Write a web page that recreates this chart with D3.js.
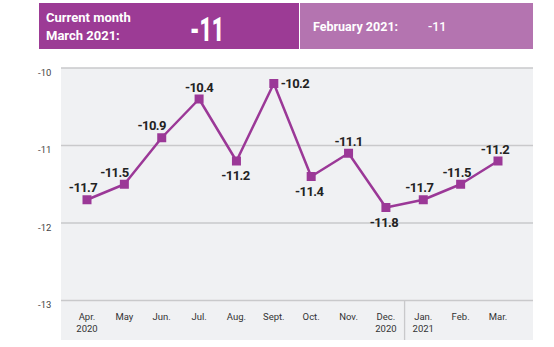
<!DOCTYPE html>
<html><head><meta charset="utf-8">
<script src="https://cdn.jsdelivr.net/npm/d3@7"></script>
<style>
html,body{margin:0;padding:0;background:#fff;}
svg{display:block;font-family:Roboto,"Open Sans",sans-serif;}
</style></head>
<body>
<svg id="c" width="554" height="347"></svg>
<script>
const months = ["Apr.","May","Jun.","Jul.","Aug.","Sept.","Oct.","Nov.","Dec.","Jan.","Feb.","Mar."];
const years  = ["2020","","","","","","","","2020","2021","",""];
const values = [-11.7,-11.5,-10.9,-10.4,-11.2,-10.2,-11.4,-11.1,-11.8,-11.7,-11.5,-11.2];
const yTicks = [-10,-11,-12,-13];
const currentLabel = ["Current month","March 2021:"];
const currentValue = "-11";
const prevLabel = "February 2021:";
const prevValue = "-11";

// label placement per point (style): [mode, dx]
const placement = [["a",-4],["a",-10],["a",-10],["a",0],["b",-1],["r",0],["b",-2],["a",0],["b",-2],["a",-4],["a",-4],["a",-3]];

const svg = d3.select("#c");
const dark = "#9c3b95", light = "#b474b0", lineCol = "#9b3897";

// header
svg.append("rect").attr("x",39).attr("y",3).attr("width",260).attr("height",46).attr("fill",dark);
svg.append("rect").attr("x",300).attr("y",3).attr("width",233).attr("height",46).attr("fill",light);
svg.append("text").attr("x",46).attr("y",22).attr("fill","#fff").attr("font-size",13).attr("font-weight",700).text(currentLabel[0]);
svg.append("text").attr("x",46).attr("y",39.5).attr("fill","#fff").attr("font-size",13).attr("font-weight",700).text(currentLabel[1]);
svg.append("text").attr("x",190).attr("y",40.5).attr("fill","#fff").attr("font-size",34).attr("font-weight",900)
  .attr("textLength",34).attr("lengthAdjust","spacingAndGlyphs").text(currentValue);
svg.append("text").attr("x",313).attr("y",30.5).attr("fill","#fff").attr("font-size",12.5).attr("font-weight",700).text(prevLabel);
svg.append("text").attr("x",428).attr("y",30.5).attr("fill","#fff").attr("font-size",12.5).attr("font-weight",500).text(prevValue);

// panel
const pL = 61, pR = 533, pT = 68, axisY = 300.5, pB = 340;
svg.append("rect").attr("x",pL).attr("y",pT).attr("width",pR-pL).attr("height",pB-pT).attr("fill","#f0f1f3");

const x = d3.scalePoint().domain(months).range([87, 498]);
const y = d3.scaleLinear().domain([-13,-10]).range([axisY, pT]);

// gridlines
svg.append("g").selectAll("line").data(yTicks).join("line")
  .attr("x1",pL).attr("x2",pR).attr("y1",d=>y(d)).attr("y2",d=>y(d))
  .attr("stroke","#c9c9cb").attr("stroke-width",1.3);
svg.append("g").selectAll("text").data(yTicks).join("text")
  .attr("x",38).attr("y",d=>y(d)+7.5).attr("font-size",9.5).attr("fill","#444").text(d=>d);

// divider between years
svg.append("line").attr("x1",(x("Dec.")+x("Jan."))/2).attr("x2",(x("Dec.")+x("Jan."))/2)
  .attr("y1",axisY).attr("y2",pB).attr("stroke","#c9c9cb").attr("stroke-width",1.3);

// x labels
const xl = svg.append("g").attr("font-size",9.5).attr("fill","#333").attr("text-anchor","middle");
xl.selectAll("text.m").data(months).join("text").attr("class","m")
  .attr("x",d=>x(d)).attr("y",320).text(d=>d);
xl.selectAll("text.yy").data(years.map((v,i)=>[v,i]).filter(d=>d[0])).join("text").attr("class","yy")
  .attr("x",d=>x(months[d[1]])).attr("y",332).text(d=>d[0]);

// line
const pts = values.map((v,i)=>[x(months[i]), y(v)]);
svg.append("path").attr("d",d3.line()(pts)).attr("fill","none").attr("stroke",lineCol).attr("stroke-width",2.5).attr("stroke-linejoin","round");
svg.append("g").selectAll("rect").data(values).join("rect")
  .attr("x",(d,i)=>x(months[i])-4.5).attr("y",d=>y(d)-4.5).attr("width",9).attr("height",9).attr("fill",lineCol);

// value labels
svg.append("g").selectAll("text").data(values).join("text")
  .attr("font-size",13).attr("font-weight",700).attr("fill","#222").attr("letter-spacing",-0.6)
  .attr("text-anchor",(d,i)=>placement[i][0]==="r"?"start":"middle")
  .attr("x",(d,i)=>x(months[i]) + (placement[i][0]==="r"?7:placement[i][1]))
  .attr("y",(d,i)=>y(d) + (placement[i][0]==="a"?-7.5:placement[i][0]==="b"?19:4))
  .text(d=>d.toFixed(1));
</script>
</body></html>
